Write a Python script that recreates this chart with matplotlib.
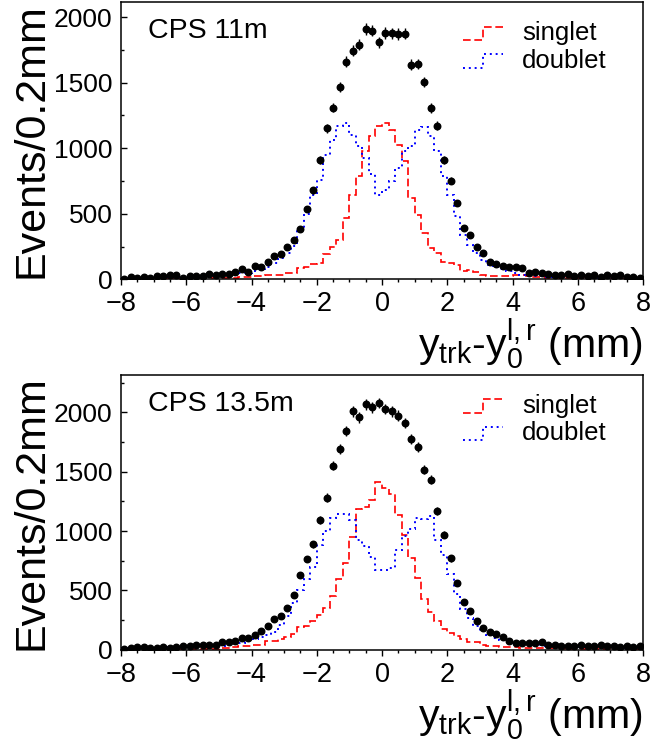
import numpy as np
import matplotlib
matplotlib.use("Agg")
import matplotlib.pyplot as plt
from matplotlib.legend_handler import HandlerBase
from matplotlib.lines import Line2D
from matplotlib.ticker import MultipleLocator

plt.rcParams['font.family'] = ['Liberation Sans', 'DejaVu Sans']
plt.rcParams['mathtext.fontset'] = 'custom'
plt.rcParams['mathtext.rm'] = 'Liberation Sans'
plt.rcParams['mathtext.it'] = 'Liberation Sans'
plt.rcParams['mathtext.default'] = 'regular'

# ---------------- data ----------------
x_min, x_max, n_bins = -8.0, 8.0, 80
panel_labels = ["CPS 11m", "CPS 13.5m"]
series_names = ["singlet", "doublet"]
ylims = [2115, 2317]

data_11m = [5, 20, 8, 20, 10, 28, 23, 30, 30, 12,
            28, 25, 23, 38, 31, 41, 38, 56, 76, 59,
            105, 97, 133, 181, 194, 245, 296, 387, 535, 678,
            912, 1152, 1310, 1468, 1659, 1745, 1789, 1908, 1896, 1809,
            1878, 1875, 1870, 1873, 1638, 1643, 1506, 1307, 1172, 910,
            751, 583, 392, 339, 249, 199, 130, 119, 99, 92,
            92, 87, 46, 59, 51, 41, 31, 31, 38, 25,
            31, 25, 31, 20, 31, 25, 33, 20, 15, 12]
singlet_11m = [3, 3, 3, 4, 4, 4, 5, 5, 5, 6,
               6, 7, 7, 8, 8, 10, 10, 12, 20, 20,
               25, 25, 31, 31, 31, 46, 46, 85, 97, 115,
               125, 190, 250, 300, 470, 645, 785, 976, 1096, 1167,
               1192, 1141, 1022, 899, 619, 490, 350, 237, 199, 135,
               122, 112, 66, 72, 55, 30, 25, 25, 25, 25,
               30, 30, 25, 20, 15, 12, 10, 10, 8, 8,
               7, 6, 6, 5, 5, 5, 4, 4, 3, 3]
doublet_11m = [10, 10, 12, 12, 14, 14, 15, 15, 16, 16,
               17, 18, 20, 25, 25, 30, 35, 40, 45, 50,
               60, 75, 95, 122, 160, 199, 255, 377, 500, 640,
               760, 950, 1065, 1167, 1190, 1103, 1014, 925, 800, 645,
               683, 746, 848, 976, 1014, 1141, 1160, 1090, 976, 785,
               645, 479, 339, 262, 199, 148, 110, 90, 75, 60,
               45, 35, 30, 25, 22, 20, 18, 16, 15, 14,
               13, 12, 12, 11, 10, 10, 9, 9, 8, 8]

data_135m = [8, 12, 22, 25, 12, 18, 22, 12, 25, 33,
             33, 36, 40, 44, 44, 61, 64, 70, 97, 103,
             128, 156, 197, 256, 283, 353, 461, 633, 764, 889,
             1092, 1281, 1550, 1689, 1842, 2008, 1958, 2069, 2042, 2078,
             2028, 2008, 1972, 1908, 1778, 1708, 1517, 1431, 1170, 969,
             769, 564, 403, 325, 244, 186, 150, 131, 106, 75,
             56, 53, 53, 58, 61, 44, 44, 31, 33, 31,
             36, 31, 28, 36, 31, 28, 25, 28, 25, 28]
singlet_135m = [3, 3, 3, 4, 4, 4, 5, 5, 5, 6,
                6, 7, 8, 8, 9, 15, 15, 20, 30, 30,
                44, 44, 75, 75, 90, 111, 133, 189, 203, 244,
                290, 350, 450, 600, 731, 950, 1189, 1200, 1258, 1411,
                1361, 1314, 1133, 967, 772, 606, 425, 314, 244, 175,
                142, 119, 92, 69, 64, 42, 35, 30, 25, 20,
                20, 18, 18, 16, 15, 14, 12, 12, 10, 10,
                9, 8, 8, 7, 7, 6, 6, 5, 5, 5]
doublet_135m = [15, 15, 16, 17, 18, 18, 20, 20, 22, 22,
                24, 25, 26, 28, 30, 35, 40, 50, 60, 70,
                90, 110, 125, 150, 210, 280, 390, 500, 600, 700,
                880, 1000, 1110, 1145, 1140, 1090, 925, 870, 780, 675,
                675, 690, 842, 960, 1015, 1106, 1100, 1130, 925, 800,
                640, 467, 340, 265, 200, 155, 120, 100, 85, 70,
                60, 50, 45, 40, 38, 35, 32, 30, 28, 26,
                25, 24, 22, 22, 20, 20, 18, 18, 16, 15]

panels = [(data_11m, singlet_11m, doublet_11m),
          (data_135m, singlet_135m, doublet_135m)]

# ---------------- styling ----------------
RED_LS = (0, (4.6, 2.2))
BLUE_LS = (0, (1.0, 2.0))
RED_LW = 1.2
BLUE_LW = 1.4


class StepHandler(HandlerBase):
    def __init__(self, color, ls, lw):
        super().__init__()
        self.color, self.ls, self.lw = color, ls, lw

    def create_artists(self, legend, orig_handle, xdescent, ydescent,
                       width, height, fontsize, trans):
        x0 = -xdescent
        xm = x0 + width * 0.5
        x1 = x0 + width
        ylo = -ydescent + height * 0.0
        yhi = -ydescent + height * 0.75
        ln = Line2D([x0, xm, xm, x1], [ylo, ylo, yhi, yhi],
                    color=self.color, linestyle=self.ls, linewidth=self.lw)
        ln.set_transform(trans)
        return [ln]


fig = plt.figure(figsize=(6.52, 7.44), dpi=100)
axes_rects = [[0.1856, 0.6246, 0.8006, 0.3727],
              [0.1856, 0.1267, 0.8006, 0.3697]]

edges = np.linspace(x_min, x_max, n_bins + 1)
centers = 0.5 * (edges[:-1] + edges[1:])

for i, (rect, (dat, sing, doub)) in enumerate(zip(axes_rects, panels)):
    ax = fig.add_axes(rect)
    dat = np.asarray(dat, dtype=float)
    ax.stairs(sing, edges, color='#ff0000', linestyle=RED_LS, linewidth=RED_LW,
              baseline=None)
    ax.stairs(doub, edges, color='#0000ff', linestyle=BLUE_LS,
              linewidth=BLUE_LW, baseline=None)
    ax.errorbar(centers, dat, yerr=np.sqrt(dat), fmt='o', color='black',
                markersize=4.7, elinewidth=1.0, capsize=0, zorder=5)

    ax.set_xlim(x_min, x_max)
    ax.set_ylim(0, ylims[i])
    ax.xaxis.set_major_locator(MultipleLocator(2))
    ax.xaxis.set_minor_locator(MultipleLocator(0.5))
    ax.yaxis.set_major_locator(MultipleLocator(500))
    ax.yaxis.set_minor_locator(MultipleLocator(250))
    ax.tick_params(axis='x', which='major', direction='out', length=4.5,
                   width=1.0, labelsize=19.5, pad=4)
    ax.tick_params(axis='x', which='minor', direction='out', length=2.5,
                   width=1.0)
    ax.tick_params(axis='y', which='major', direction='in', length=4.5,
                   width=1.0, labelsize=19, pad=6)
    ax.tick_params(axis='y', which='minor', direction='in', length=2.5,
                   width=1.0)
    for sp in ax.spines.values():
        sp.set_linewidth(1.1)

    ax.set_ylabel("Events/0.2mm", fontsize=31, labelpad=2)
    ax.set_xlabel(r"$y_{trk}$-$y_0^{l,r}$ (mm)", fontsize=29.5, loc='right',
                  labelpad=0)

    ax.text(0.052, 0.895, panel_labels[i], transform=ax.transAxes,
            fontsize=20.5, va='center', ha='left')

    h1 = Line2D([], [], color='#ff0000', linestyle=RED_LS, linewidth=RED_LW)
    h2 = Line2D([], [], color='#0000ff', linestyle=BLUE_LS, linewidth=BLUE_LW)
    ax.legend([h1, h2], series_names, loc='upper left',
              bbox_to_anchor=(0.655, 0.93), frameon=False, fontsize=18.5,
              handlelength=1.55, handletextpad=0.75, labelspacing=0.12,
              borderpad=0, borderaxespad=0,
              handler_map={h1: StepHandler('#ff0000', RED_LS, RED_LW),
                           h2: StepHandler('#0000ff', BLUE_LS, BLUE_LW)})

fig.savefig("out.png", dpi=100)
